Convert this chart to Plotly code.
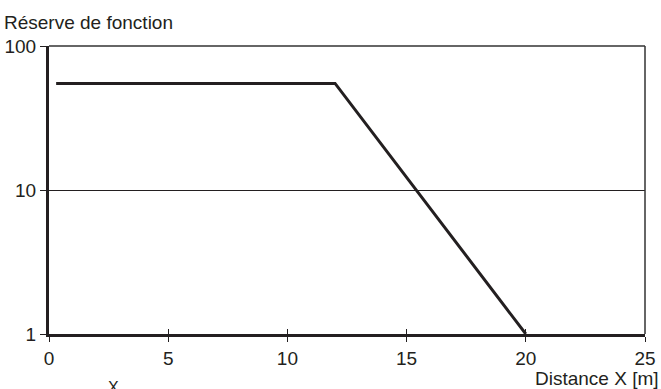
import plotly.graph_objects as go

distance = [0.3, 12, 20]
reserve = [55, 55, 1]
x_ticks = [0, 5, 10, 15, 20, 25]
y_ticks = [1, 10, 100]
y_labels = ["1", "10", "100"]

INK = "#231f20"
fig = go.Figure()
fig.add_trace(go.Scatter(x=distance, y=reserve, mode="lines",
                         line=dict(color=INK, width=3), showlegend=False))
# invisible trace on overlay axes (ticks pointing inward, so ticks cross the axes)
fig.add_trace(go.Scatter(x=[0, 25], y=[1, 1], xaxis="x2", yaxis="y2", mode="lines",
                         line=dict(width=0), hoverinfo="skip", showlegend=False))

font = dict(family="Liberation Sans, Arial", size=19, color=INK)
fig.update_layout(
    width=661, height=389,
    margin=dict(l=49, r=16, t=46, b=55),
    plot_bgcolor="white", paper_bgcolor="white",
    font=font,
    xaxis=dict(range=[0, 25], tickvals=x_ticks, ticks="outside", ticklen=5,
               tickwidth=1, tickcolor=INK, showgrid=False, zeroline=False,
               showline=True, linecolor=INK, linewidth=3, mirror=False,
               tickfont=font, automargin=False),
    xaxis2=dict(range=[0, 25], overlaying="x", side="bottom", tickvals=x_ticks,
                ticks="inside", ticklen=5, tickwidth=1, tickcolor=INK, automargin=False,
                showticklabels=False, showgrid=False, zeroline=False, showline=False),
    yaxis=dict(type="log", range=[0, 2], tickvals=y_ticks, ticktext=y_labels,
               ticks="outside", ticklen=6, tickwidth=1, tickcolor=INK,
               showgrid=True, gridcolor=INK, gridwidth=1, zeroline=False,
               showline=True, linecolor=INK, linewidth=3, tickfont=font,
               automargin=False),
    yaxis2=dict(type="log", range=[0, 2], overlaying="y", side="left", tickvals=y_ticks,
                ticks="inside", ticklen=5, tickwidth=1, tickcolor=INK, automargin=False,
                showticklabels=False, showgrid=False, zeroline=False, showline=False),
    shapes=[
        dict(type="line", xref="paper", yref="paper", x0=0, x1=1, y0=1, y1=1,
             line=dict(color="#333", width=1.5)),
        dict(type="line", xref="paper", yref="paper", x0=1, x1=1, y0=0, y1=1,
             line=dict(color="#333", width=1.5)),
    ],
    annotations=[
        dict(text="Réserve de fonction", xref="paper", yref="paper", x=-47/596, y=1 + 24/288,
             xanchor="left", yanchor="middle", showarrow=False, font=font),
        dict(text="Distance X [m]", xref="paper", yref="paper", x=1 + 16/596, y=-44/288,
             xanchor="right", yanchor="middle", showarrow=False, font=font),
        dict(text="X", xref="paper", yref="paper", x=64/596, y=-53/288,
             xanchor="center", yanchor="middle", showarrow=False,
             font=dict(family="Liberation Sans, Arial", size=16, color=INK)),
    ],
)
fig.write_html("out.html", post_script="document.body.style.margin='0';",
               config={"displayModeBar": False})
